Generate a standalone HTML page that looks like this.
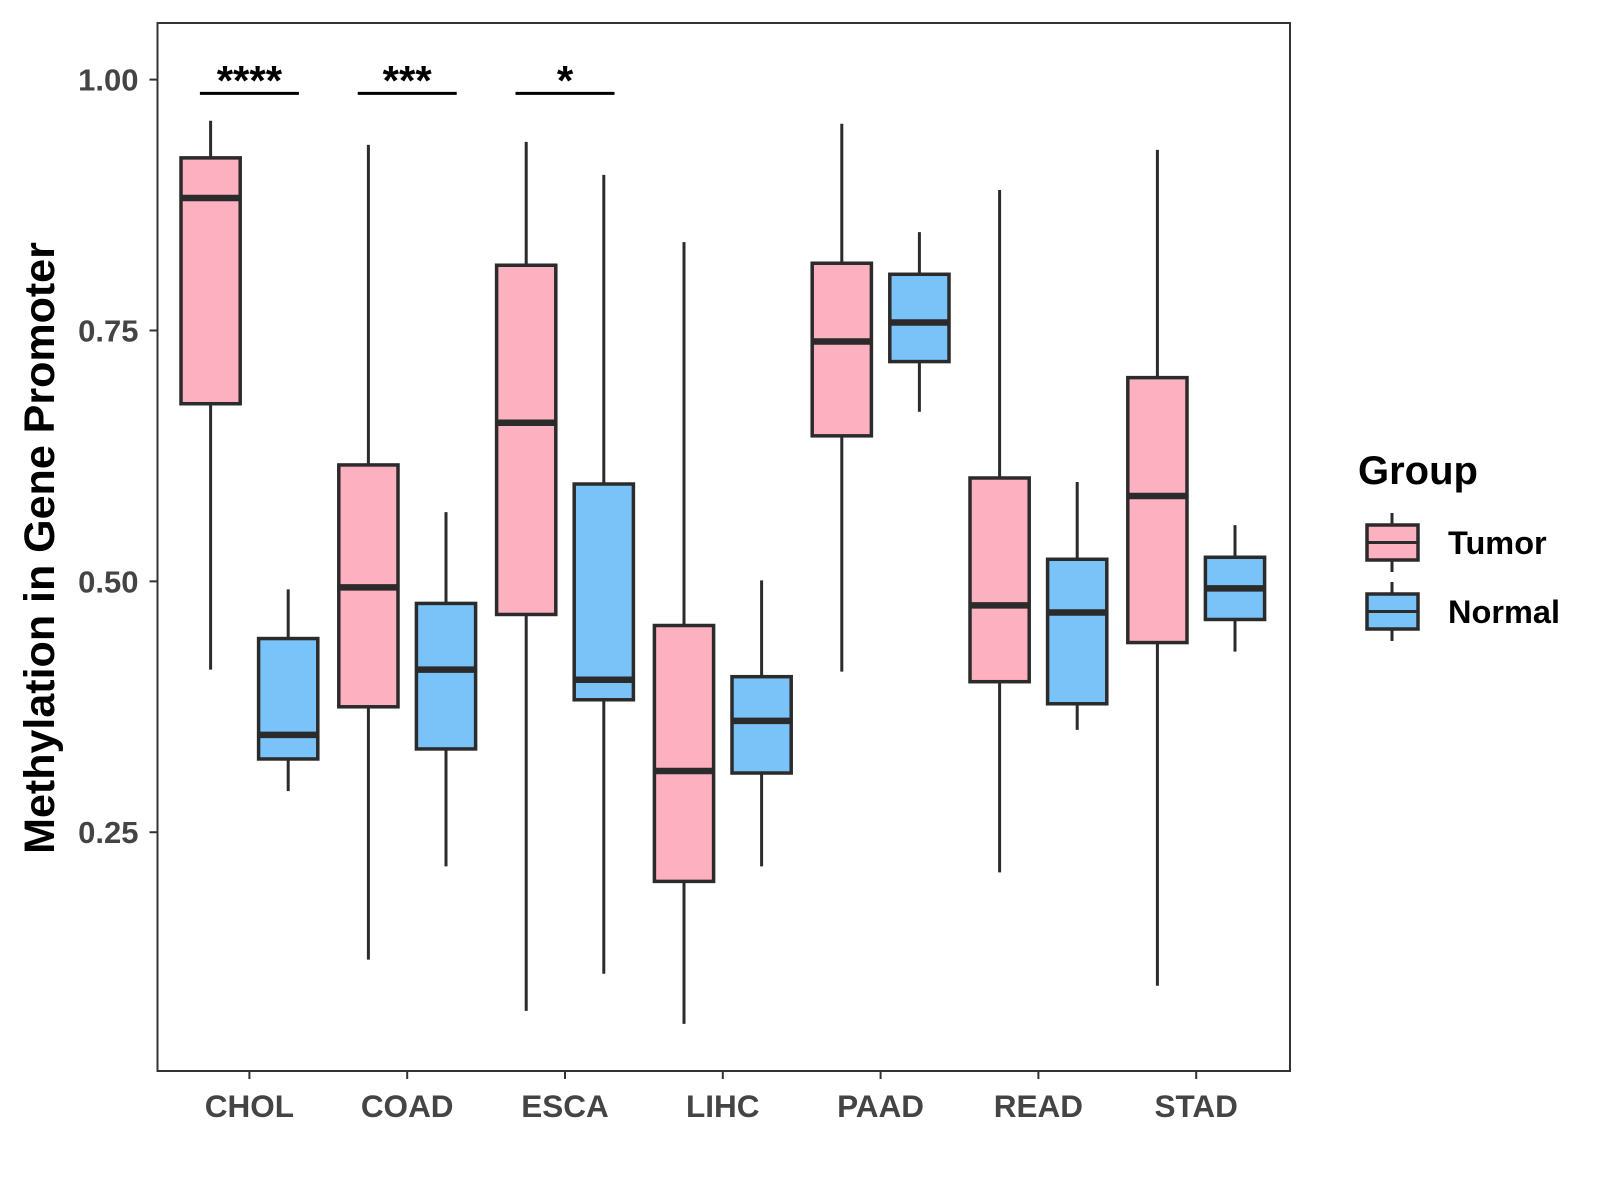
<!DOCTYPE html>
<html><head><meta charset="utf-8"><style>
body{margin:0;background:#fff}
svg{display:block}
text{font-family:"Liberation Sans",Arial,sans-serif;font-weight:bold}
</style></head><body>
<svg id="chart" width="1600" height="1200" viewBox="0 0 1600 1200" xmlns="http://www.w3.org/2000/svg"></svg>
<script>
const categories=["CHOL","COAD","ESCA","LIHC","PAAD","READ","STAD"];
// [lowerWhisker, Q1, median, Q3, upperWhisker]
const tumorStats=[[0.412,0.677,0.882,0.922,0.959],[0.123,0.375,0.494,0.616,0.935],[0.072,0.467,0.658,0.815,0.938],[0.059,0.201,0.311,0.456,0.838],[0.410,0.645,0.739,0.817,0.956],[0.210,0.400,0.476,0.603,0.890],[0.097,0.439,0.585,0.703,0.930]];
const normalStats=[[0.291,0.323,0.347,0.443,0.492],[0.216,0.333,0.412,0.478,0.569],[0.109,0.382,0.402,0.597,0.905],[0.216,0.309,0.361,0.405,0.501],[0.669,0.719,0.758,0.806,0.848],[0.352,0.378,0.469,0.522,0.599],[0.430,0.462,0.493,0.524,0.556]];
const yTicks=[0.25,0.50,0.75,1.00];
const yTickLabels=["0.25","0.50","0.75","1.00"];
const sigCats=["CHOL","COAD","ESCA"];
const sigLabels=["****","***","*"];

const NS="http://www.w3.org/2000/svg";
const svg=document.getElementById("chart");
const P={l:157.5,r:1290,t:23,b:1071};
const yScale=v=>79.6+(1-v)*1003.5;
const xScale=i=>249.4+i*157.8;
const DODGE=38.8,BW=59.2;
function mk(tag,attrs,parent){const e=document.createElementNS(NS,tag);for(const k in attrs)e.setAttribute(k,attrs[k]);(parent||svg).appendChild(e);return e;}

const panel=mk("rect",{x:P.l,y:P.t,width:P.r-P.l,height:P.b-P.t,fill:"none",stroke:"#333",'stroke-width':2});



yTicks.forEach((v,i)=>{
  const y=yScale(v);
  const t=mk("line",{x1:P.l-8,x2:P.l,y1:y,y2:y,stroke:"#333",'stroke-width':2});
  
  
  const lb=mk("text",{x:P.l-19,y:y+11,'text-anchor':'end','font-size':31,fill:'#444'});
  lb.textContent=yTickLabels[i];
  
  
});
categories.forEach((c,i)=>{
  const x=xScale(i);
  const t=mk("line",{x1:x,x2:x,y1:P.b,y2:P.b+8,stroke:"#333",'stroke-width':2});
  
  
  const lb=mk("text",{x:x,y:1117,'text-anchor':'middle','font-size':31.5,fill:'#444'});
  lb.textContent=c;
  
  
});

function drawBox(cx,s,fill,name){
  const g=mk("g",{});
  
  
  mk("line",{x1:cx,x2:cx,y1:yScale(s[4]),y2:yScale(s[3]),stroke:"#2b2b2b",'stroke-width':3},g);
  mk("line",{x1:cx,x2:cx,y1:yScale(s[1]),y2:yScale(s[0]),stroke:"#2b2b2b",'stroke-width':3},g);
  mk("rect",{x:cx-BW/2,y:yScale(s[3]),width:BW,height:yScale(s[1])-yScale(s[3]),fill:fill,stroke:"#2b2b2b",'stroke-width':3.5},g);
  mk("line",{x1:cx-BW/2,x2:cx+BW/2,y1:yScale(s[2]),y2:yScale(s[2]),stroke:"#2b2b2b",'stroke-width':6.5},g);
}
categories.forEach((c,i)=>{
  drawBox(xScale(i)-DODGE,tumorStats[i],"#FDB0C0","box-tumor-"+c.toLowerCase());
  drawBox(xScale(i)+DODGE,normalStats[i],"#79C3F8","box-normal-"+c.toLowerCase());
});

sigCats.forEach((c,k)=>{
  const i=categories.indexOf(c),x=xScale(i);
  const l=mk("line",{x1:x-49.5,x2:x+49.5,y1:93.4,y2:93.4,stroke:"#000",'stroke-width':3});
  
  
  const t=mk("text",{x:x,y:95,'text-anchor':'middle','font-size':42,fill:'#000'});
  t.textContent=sigLabels[k];
  
  
});

const yt=mk("text",{x:0,y:0,transform:"translate(54,548) rotate(-90)",'text-anchor':'middle','font-size':43,fill:'#000'});
yt.textContent="Methylation in Gene Promoter";



const lg=mk("g",{});


const lt=mk("text",{x:1358,y:484,'font-size':40,fill:'#000'},lg);
lt.textContent="Group";


[["Tumor","#FDB0C0",525],["Normal","#79C3F8",594]].forEach(([lab,col,y0])=>{
  const e=mk("g",{},lg);
  
  
  const cx=1392;
  mk("line",{x1:cx,x2:cx,y1:y0-12,y2:y0+47,stroke:"#2b2b2b",'stroke-width':3},e);
  mk("rect",{x:1367,y:y0,width:51,height:35,fill:col,stroke:"#2b2b2b",'stroke-width':3.5},e);
  mk("line",{x1:1367,x2:1418,y1:y0+17.5,y2:y0+17.5,stroke:"#2b2b2b",'stroke-width':3},e);
  const t=mk("text",{x:1448,y:y0+29,'font-size':32.5,fill:'#000'},e);
  t.textContent=lab;
});
</script>
</body></html>
